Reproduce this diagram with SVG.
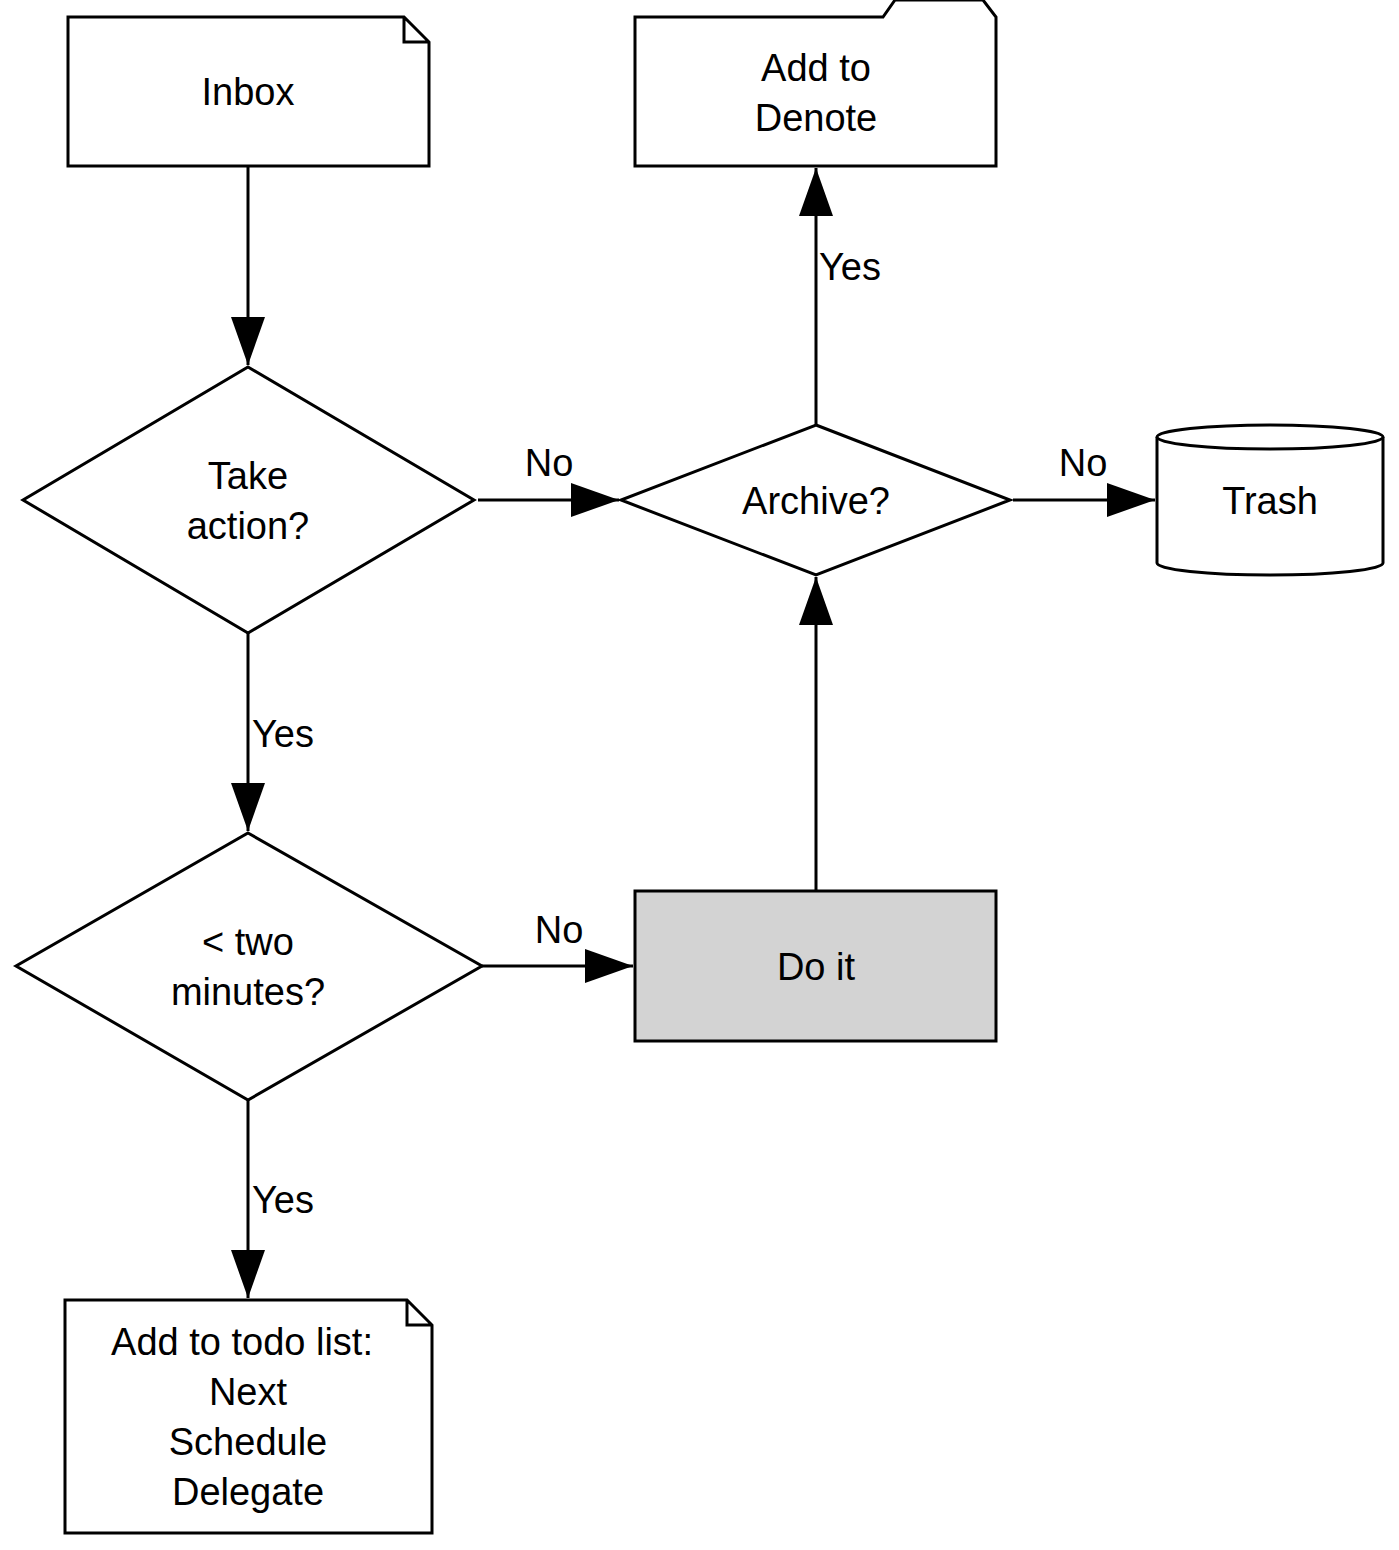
<svg xmlns="http://www.w3.org/2000/svg" width="1399" height="1550" viewBox="0 0 1399 1550">
<style>
.s{fill:#fff;stroke:#000;stroke-width:3}
.t{font-family:"Liberation Sans",Arial,sans-serif;font-size:38px;text-anchor:middle;fill:#000}
.e{stroke:#000;stroke-width:3;fill:none;marker-end:url(#a)}
</style>
<defs>
<marker id="a" markerUnits="userSpaceOnUse" markerWidth="50" markerHeight="36" refX="48" refY="18" orient="auto">
<path d="M0,1 L48,18 L0,35 Z" fill="#000"/>
</marker>
</defs>
<rect width="1399" height="1550" fill="#fff"/>
<g id="edges">
<path class="e" d="M248,166 V365"/>
<path class="e" d="M478,500 H619"/>
<path class="e" d="M1013,500 H1155"/>
<path class="e" d="M816,425 V168"/>
<path class="e" d="M816,891 V577"/>
<path class="e" d="M248,633 V831"/>
<path class="e" d="M482,966 H633"/>
<path class="e" d="M248,1100 V1298"/>
<text class="t" x="549" y="476">No</text>
<text class="t" x="1083" y="476">No</text>
<text class="t" x="850" y="280">Yes</text>
<text class="t" x="283" y="747">Yes</text>
<text class="t" x="559" y="943">No</text>
<text class="t" x="283" y="1213">Yes</text>
</g>
<g id="inbox">
<path class="s" d="M68,17 H404 L429,42 V166 H68 Z M404,17 V42 H429"/>
<text class="t" x="248" y="105">Inbox</text>
</g>
<g id="denote">
<path class="s" d="M635,17 H883 L895,0 H983 L996,17 V166 H635 Z"/>
<text class="t" x="816" y="81">Add to</text>
<text class="t" x="816" y="131">Denote</text>
</g>
<g id="take">
<path class="s" d="M248,367 L474,500 L248,633 L23,500 Z"/>
<text class="t" x="248" y="489">Take</text>
<text class="t" x="248" y="539">action?</text>
</g>
<g id="archive">
<path class="s" d="M816,425 L1010,500 L816,575 L621,500 Z"/>
<text class="t" x="816" y="514">Archive?</text>
</g>
<g id="trash">
<path class="s" d="M1157,437 V563 A113,12 0 0 0 1383,563 V437 A113,12 0 0 0 1157,437 Z"/>
<path class="s" d="M1157,437 A113,12 0 0 0 1383,437" fill="none"/>
<text class="t" x="1270" y="514">Trash</text>
</g>
<g id="doit">
<rect x="635" y="891" width="361" height="150" fill="#d3d3d3" stroke="#000" stroke-width="3"/>
<text class="t" x="816" y="980">Do it</text>
</g>
<g id="two">
<path class="s" d="M248,833 L482,966 L248,1100 L16,966 Z"/>
<text class="t" x="248" y="955">&lt; two</text>
<text class="t" x="248" y="1005">minutes?</text>
</g>
<g id="todo">
<path class="s" d="M65,1300 H407 L432,1325 V1533 H65 Z M407,1300 V1325 H432"/>
<text class="t" x="242" y="1355">Add to todo list:</text>
<text class="t" x="248" y="1405">Next</text>
<text class="t" x="248" y="1455">Schedule</text>
<text class="t" x="248" y="1505">Delegate</text>
</g>
</svg>
